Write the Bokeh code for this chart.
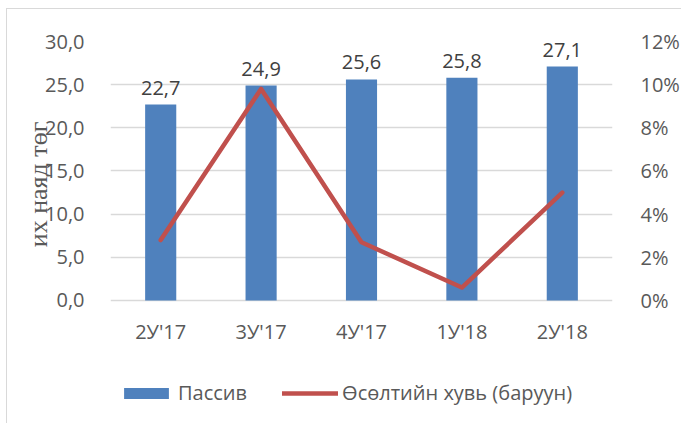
from bokeh.plotting import figure
from bokeh.models import (Range1d, LinearAxis, FixedTicker, CustomJSTickFormatter,
                          Legend, LegendItem, ColumnDataSource)
from bokeh.core.properties import value
from bokeh.embed import file_html
from bokeh.resources import INLINE

categories = ["2У'17", "3У'17", "4У'17", "1У'18", "2У'18"]
passiv = [22.7, 24.9, 25.6, 25.8, 27.1]
growth_pct = [2.8, 9.8, 2.7, 0.6, 5.0]
left_ticks = [0, 5, 10, 15, 20, 25, 30]
right_ticks = [0, 2, 4, 6, 8, 10, 12]

FONT = "Open Sans"
GRAY = "#595959"
FS = "20px"

# Frame reaches down to the legend so the legend is not clipped;
# the value axis still shows only 0..30 (0..12 %).
Y_MIN, Y_MAX = -13.67, 30
R_MIN, R_MAX = Y_MIN * 12 / 30, 12

labels_txt = [f"{v:.1f}".replace(".", ",") for v in passiv]
src = ColumnDataSource(dict(x=categories, top=passiv, pct=growth_pct, lbl=labels_txt,
                            base=[0] * len(categories)))

p = figure(x_range=categories, y_range=Range1d(Y_MIN, Y_MAX), width=675, height=415,
           output_backend="svg", toolbar_location=None,
           min_border_left=103, min_border_right=69, min_border_top=32, min_border_bottom=6)
p.styles = {"border-top": "1px solid #d9d9d9", "border-left": "1px solid #d9d9d9",
            "margin-left": "6px", "margin-top": "8px"}
p.outline_line_color = None
p.background_fill_color = "white"

p.extra_y_ranges = {"pct": Range1d(R_MIN, R_MAX)}

bars = p.vbar(x="x", top="top", width=0.31, source=src, fill_color="#4f81bd",
              line_color=None)
line = p.line(x="x", y="pct", source=src, y_range_name="pct", line_color="#c0504d",
              line_width=4.5, line_join="round", line_cap="round")

# value labels
p.text(x="x", y="top", text="lbl", source=src, text_align="center",
       text_baseline="alphabetic", y_offset=-17, text_font=value(FONT),
       text_font_size=FS, text_color="#404040")
# category labels
p.text(x="x", y="base", text="x", source=src, text_align="center",
       text_baseline="middle", y_offset=31, text_font=value(FONT),
       text_font_size=FS, text_color=GRAY)

# Left axis
la = p.yaxis[0]
la.ticker = FixedTicker(ticks=left_ticks)
la.formatter = CustomJSTickFormatter(code="return tick.toFixed(1).replace('.', ',');")
la.axis_line_color = None
la.major_tick_line_color = None
la.minor_tick_line_color = None
la.major_label_standoff = 20
la.major_label_text_font = FONT
la.major_label_text_font_size = FS
la.major_label_text_color = GRAY
la.axis_label = "\u00a0" * 14 + "их наяд төг"
la.axis_label_standoff = -11
la.axis_label_text_font = "Liberation Serif"
la.axis_label_text_font_style = "normal"
la.axis_label_text_font_size = "26px"
la.axis_label_text_color = GRAY

# Right axis
ra = LinearAxis(y_range_name="pct", ticker=FixedTicker(ticks=right_ticks),
                formatter=CustomJSTickFormatter(code="return tick.toFixed(0) + '%';"))
ra.axis_line_color = None
ra.major_tick_line_color = None
ra.minor_tick_line_color = None
ra.major_label_standoff = 22
ra.major_label_text_font = FONT
ra.major_label_text_font_size = FS
ra.major_label_text_color = GRAY
p.add_layout(ra, "right")

p.xaxis.visible = False

p.xgrid.grid_line_color = None
p.ygrid.grid_line_color = "#d9d9d9"
p.ygrid.grid_line_width = 1.5
p.ygrid.ticker = FixedTicker(ticks=left_ticks)

legend = Legend(items=[LegendItem(label="Пассив", renderers=[bars]),
                       LegendItem(label="Өсөлтийн хувь (баруун)", renderers=[line])],
                orientation="horizontal", location=(8, 12), padding=0, margin=0,
                spacing=35, glyph_width=56, glyph_height=14, label_standoff=4,
                border_line_color=None, background_fill_alpha=0,
                label_text_font=FONT, label_text_font_size=FS, label_text_color=GRAY)
p.add_layout(legend, "center")

open("out.html", "w").write(file_html(p, INLINE))
